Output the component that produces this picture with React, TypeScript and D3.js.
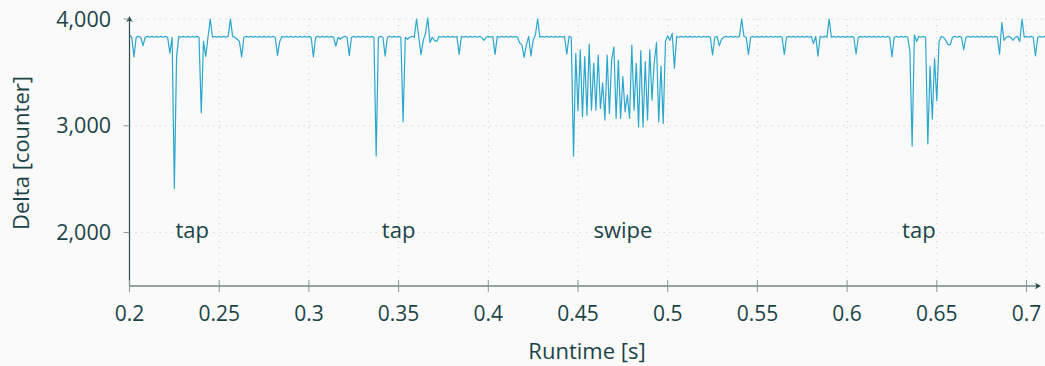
import * as d3 from "d3";

const WIDTH = 1045;
const HEIGHT = 366;
const MARGIN = { top: 19, right: 18.5, bottom: 80, left: 129.5 };

// samples of the delta counter, one every STEP seconds starting at T0
const T0 = 0.2;
const STEP = 0.00125;
const delta = [
  3850, 3829, 3645, 3829, 3837, 3829, 3750, 3829, 3837, 3829, 3837, 3829, 3837, 3829, 3837, 3829, 3837, 3829, 3680, 3829,
  2415, 3650, 3837, 3829, 3837, 3829, 3837, 3829, 3837, 3829, 3837, 3829, 3122, 3790, 3650, 3829, 4000, 3829, 3837, 3829,
  3837, 3829, 3837, 3829, 3837, 4000, 3837, 3829, 3810, 3790, 3645, 3829, 3837, 3829, 3837, 3829, 3837, 3829, 3837, 3829,
  3837, 3829, 3837, 3829, 3837, 3829, 3660, 3790, 3837, 3829, 3837, 3829, 3837, 3829, 3837, 3829, 3837, 3829, 3837, 3829,
  3837, 3829, 3645, 3829, 3837, 3829, 3837, 3829, 3837, 3829, 3837, 3829, 3745, 3829, 3810, 3829, 3837, 3829, 3660, 3829,
  3837, 3829, 3837, 3829, 3837, 3829, 3837, 3829, 3837, 3829, 2717, 3829, 3837, 3829, 3652, 3829, 3837, 3829, 3837, 3829,
  3837, 3829, 3037, 3829, 3810, 3829, 3837, 3829, 4000, 3829, 3665, 3800, 3866, 4010, 3780, 3829, 3800, 3790, 3837, 3829,
  3837, 3829, 3837, 3829, 3837, 3829, 3837, 3669, 3837, 3829, 3837, 3829, 3837, 3829, 3837, 3829, 3837, 3829, 3800, 3829,
  3837, 3829, 3837, 3669, 3837, 3829, 3837, 3829, 3837, 3829, 3837, 3829, 3837, 3829, 3775, 3760, 3640, 3760, 3837, 3653,
  3800, 3850, 4000, 3829, 3837, 3829, 3837, 3829, 3837, 3829, 3837, 3829, 3837, 3829, 3837, 3670, 3837, 3829, 2715, 3678,
  3140, 3710, 3085, 3647, 3100, 3766, 3147, 3585, 3147, 3663, 3163, 3403, 3054, 3663, 3116, 3616, 3740, 3070, 3616, 3070,
  3460, 3131, 3288, 3070, 3756, 3147, 3585, 2990, 3703, 2990, 3600, 3054, 3710, 3241, 3595, 3778, 3038, 3560, 3022, 3788,
  3840, 3800, 3866, 3540, 3836, 3829, 3837, 3829, 3837, 3829, 3837, 3829, 3837, 3829, 3837, 3829, 3837, 3829, 3837, 3829,
  3663, 3829, 3837, 3750, 3810, 3829, 3837, 3829, 3837, 3829, 3837, 3829, 3837, 4000, 3837, 3829, 3669, 3829, 3837, 3829,
  3837, 3829, 3837, 3829, 3837, 3829, 3837, 3829, 3837, 3829, 3837, 3829, 3669, 3829, 3837, 3829, 3837, 3829, 3837, 3829,
  3837, 3829, 3837, 3829, 3837, 3770, 3837, 3653, 3837, 3829, 3837, 3829, 4000, 3829, 3837, 3829, 3837, 3829, 3837, 3829,
  3837, 3829, 3837, 3829, 3672, 3829, 3837, 3829, 3837, 3829, 3837, 3829, 3837, 3829, 3837, 3829, 3837, 3829, 3837, 3829,
  3645, 3829, 3837, 3829, 3837, 3829, 3837, 3829, 3700, 2810, 3850, 3790, 3837, 3829, 3837, 3829, 2830, 3560, 3063, 3630,
  3235, 3790, 3837, 3829, 3800, 3760, 3760, 3829, 3837, 3829, 3837, 3829, 3712, 3829, 3837, 3829, 3837, 3829, 3837, 3829,
  3837, 3829, 3837, 3829, 3837, 3829, 3837, 3829, 3670, 3966, 3800, 3829, 3837, 3829, 3800, 3829, 3837, 3790, 4000, 3829,
  3837, 3829, 3837, 3829, 3655, 3829, 3837, 3829, 3837, 3829,
];

const xTicks = [0.2, 0.25, 0.3, 0.35, 0.4, 0.45, 0.5, 0.55, 0.6, 0.65, 0.7];
const xTickLabels = ["0.2", "0.25", "0.3", "0.35", "0.4", "0.45", "0.5", "0.55", "0.6", "0.65", "0.7"];
const yTicks = [2000, 3000, 4000];
const yTickLabels = ["2,000", "3,000", "4,000"];

// gesture annotations, written at the 2,000 level
const gestureLabels = ["tap", "tap", "swipe", "tap"];
const gestureTimes = [0.235, 0.35, 0.475, 0.64];
const GESTURE_LEVEL = 2000;

const TEXT = "#1a4447";
const AXIS = "#2c4a4a";
const LINE = "#2ba7cd";
const GRID = "#cfcfcf";
const FONT = "'Open Sans', 'DejaVu Sans', sans-serif";

export default function App() {
  const xScale = d3.scaleLinear().domain([0.2, 0.7]).range([MARGIN.left, 1026.5]);
  const yScale = d3
    .scaleLinear()
    .domain([1500, 4000])
    .range([HEIGHT - MARGIN.bottom, MARGIN.top]);

  const points = delta.map((v, i) => ({ t: T0 + i * STEP, v }));
  const linePath = d3
    .line<{ t: number; v: number }>()
    .x((d) => xScale(d.t))
    .y((d) => yScale(d.v))(points);

  const x0 = xScale(0.2);
  const yBottom = yScale(1500);
  const xEnd = 1041;
  const yTop = 16;

  return (
    <svg
      width={WIDTH}
      height={HEIGHT}
      style={{ position: "absolute", left: 0, top: 0, fontFamily: FONT }}
    >
      <rect width={WIDTH} height={HEIGHT} fill="#fafafa" />

      {/* dotted grid */}
      {yTicks.map((t) => (
        <line
          key={"gy" + t}
          x1={x0}
          x2={WIDTH}
          y1={yScale(t)}
          y2={yScale(t)}
          stroke={GRID}
          strokeWidth={1}
          strokeDasharray="1.2 4.8"
        />
      ))}
      {xTicks.slice(1).map((t) => (
        <line
          key={"gx" + t}
          x1={xScale(t)}
          x2={xScale(t)}
          y1={yScale(4000)}
          y2={yBottom}
          stroke={GRID}
          strokeWidth={1}
          strokeDasharray="1.2 4.8"
        />
      ))}

      {/* signal */}
      <path d={linePath || ""} fill="none" stroke={LINE} strokeWidth={1.2} strokeLinejoin="round" />

      {/* axes */}
      <line x1={x0} x2={x0} y1={yBottom} y2={yTop + 2} stroke={AXIS} strokeWidth={1.2} />
      <path
        d={`M${x0},${yTop} L${x0 + 3.2},${yTop + 6} L${x0},${yTop + 4.5} L${x0 - 3.2},${yTop + 6} Z`}
        fill={AXIS}
      />
      <line x1={x0} x2={xEnd - 2} y1={yBottom} y2={yBottom} stroke={AXIS} strokeWidth={1.2} />
      <path
        d={`M${xEnd},${yBottom} L${xEnd - 6},${yBottom - 3.2} L${xEnd - 4.5},${yBottom} L${xEnd - 6},${yBottom + 3.2} Z`}
        fill={AXIS}
      />

      {yTicks.map((t, i) => (
        <g key={"yt" + t}>
          <line x1={x0 - 6} x2={x0} y1={yScale(t)} y2={yScale(t)} stroke="#8a9898" strokeWidth={1} />
          <text x={111} y={yScale(t) + 7.5} textAnchor="end" fontSize={21.5} fill={TEXT}>
            {yTickLabels[i]}
          </text>
        </g>
      ))}
      {xTicks.map((t, i) => (
        <g key={"xt" + t}>
          <line
            x1={xScale(t)}
            x2={xScale(t)}
            y1={yBottom - 6}
            y2={yBottom + 6}
            stroke="#8a9898"
            strokeWidth={1}
          />
          <text x={xScale(t)} y={320.5} textAnchor="middle" fontSize={21} fill={TEXT}>
            {xTickLabels[i]}
          </text>
        </g>
      ))}

      {/* gesture annotations */}
      {gestureLabels.map((label, i) => (
        <text
          key={"g" + i}
          x={xScale(gestureTimes[i])}
          y={yScale(GESTURE_LEVEL) + 5}
          textAnchor="middle"
          fontSize={22}
          fill={TEXT}
        >
          {label}
        </text>
      ))}

      {/* axis titles */}
      <text x={587} y={359} textAnchor="middle" fontSize={22} fill={TEXT}>
        Runtime [s]
      </text>
      <text
        transform={`translate(29,153) rotate(-90)`}
        textAnchor="middle"
        fontSize={22}
        fill={TEXT}
      >
        Delta [counter]
      </text>
    </svg>
  );
}
